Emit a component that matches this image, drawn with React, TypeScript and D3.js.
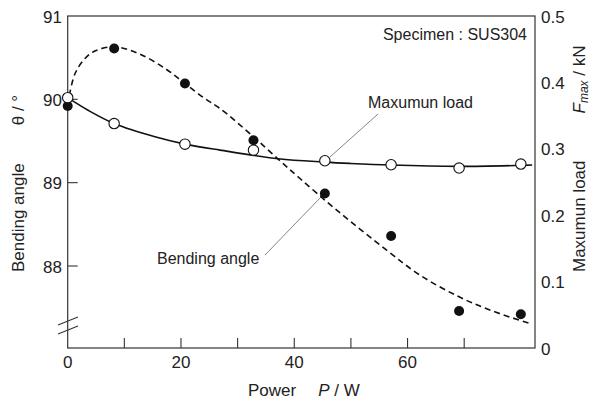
import React from "react";
import * as d3 from "d3";

// Measured data (Power P / W)
const power = [0, 8.2, 20.7, 32.8, 45.4, 57.1, 69.1, 80.0];
const bendingAngle = [89.92, 90.61, 90.19, 89.51, 88.87, 88.36, 87.46, 87.42];
const maxLoad = [0.377, 0.338, 0.307, 0.298, 0.282, 0.276, 0.271, 0.277];

// Fitted curves
const angleFitPower = [0.3, 1.3, 3.05, 4.8, 8.2, 12.5, 17.2, 20.7, 24.2, 26.9, 32.8, 37.2, 41.0, 47.5, 56.3, 62.2, 69.1, 75.0, 81.6];
const angleFitValue = [90.05, 90.31, 90.49, 90.58, 90.63, 90.55, 90.37, 90.19, 90.01, 89.89, 89.55, 89.28, 89.05, 88.67, 88.19, 87.89, 87.63, 87.46, 87.31];
const loadFitPower = [0, 3.6, 8.2, 15.4, 20.7, 26.9, 37.2, 45.4, 49.8, 57.0, 69.1, 80.0, 82.0];
const loadFitValue = [0.377, 0.358, 0.338, 0.318, 0.307, 0.298, 0.285, 0.280, 0.278, 0.2755, 0.2735, 0.275, 0.2755];

const xTicks = [10, 20, 30, 40, 50, 60, 70];
const xTickLabels = [0, 20, 40, 60];
const angleTicks = [88, 89, 90];
const angleTickLabels = [88, 89, 90, 91];
const loadTickLabels = [0, 0.1, 0.2, 0.3, 0.4, 0.5];

const FONT = "'Liberation Sans', Arial, Helvetica, sans-serif";
const TXT = "#222";

export default function App() {
  const left = 67.7, right = 535, top = 16, bottom = 348;
  const x = d3.scaleLinear().domain([0, 82.5]).range([left, right]);
  const yA = d3.scaleLinear().domain([87.016, 91]).range([bottom, top]);
  const yL = d3.scaleLinear().domain([0, 0.5]).range([bottom, top]);

  const angleLine = d3
    .line<number>()
    .x((_, i) => x(angleFitPower[i]))
    .y((d) => yA(d))
    .curve(d3.curveCatmullRom.alpha(0.5));
  const loadLine = d3
    .line<number>()
    .x((_, i) => x(loadFitPower[i]))
    .y((d) => yL(d))
    .curve(d3.curveCatmullRom.alpha(0.5));

  return (
    <svg
      width={590}
      height={400}
      style={{ position: "absolute", left: 0, top: 0, background: "#fff" }}
      fontFamily={FONT}
    >
      <rect x={0} y={0} width={590} height={400} fill="#fff" />
      {/* frame */}
      <rect x={left} y={top} width={right - left} height={bottom - top} fill="none" stroke="#333" strokeWidth={1.2} />
      {/* x ticks (inward) */}
      {xTicks.map((t) => (
        <line key={t} x1={x(t)} x2={x(t)} y1={bottom} y2={bottom - 10} stroke="#333" strokeWidth={1.1} />
      ))}
      {/* left ticks inward */}
      {angleTicks.map((t) => (
        <line key={t} x1={left} x2={left + 10} y1={yA(t)} y2={yA(t)} stroke="#333" strokeWidth={1.1} />
      ))}
      {/* axis break */}
      <line x1={58} y1={325} x2={78} y2={317} stroke="#333" strokeWidth={1.1} />
      <line x1={58} y1={334} x2={78} y2={326} stroke="#333" strokeWidth={1.1} />

      {/* tick labels */}
      {xTickLabels.map((t) => (
        <text key={t} x={x(t)} y={368} textAnchor="middle" fontSize={17} fill={TXT}>
          {t}
        </text>
      ))}
      {angleTickLabels.map((t) => (
        <text key={t} x={62} y={yA(t) + 1} textAnchor="end" dominantBaseline="central" fontSize={17} fill={TXT}>
          {t}
        </text>
      ))}
      {loadTickLabels.map((t) => (
        <text key={t} x={541} y={yL(t) + 1} textAnchor="start" dominantBaseline="central" fontSize={17} fill={TXT}>
          {t === 0 ? "0" : t.toFixed(1)}
        </text>
      ))}

      {/* axis titles */}
      <text x={248} y={396} fontSize={17} fill={TXT}>
        Power
        <tspan dx={22} fontStyle="italic">P</tspan>
        <tspan> / W</tspan>
      </text>
      <text transform="translate(24,272) rotate(-90)" fontSize={17} fill={TXT}>
        Bending angle
        <tspan dx={38}>θ / °</tspan>
      </text>
      <text transform="translate(585,272) rotate(-90)" fontSize={17} fill={TXT}>
        Maxumun load
        <tspan dx={47} fontStyle="italic">F</tspan>
        <tspan fontStyle="italic" fontSize={12} dy={3}>max</tspan>
        <tspan dy={-3}> / kN</tspan>
      </text>

      {/* annotations */}
      <text x={527} y={40} textAnchor="end" fontSize={16} fill={TXT}>
        Specimen : SUS304
      </text>
      <text x={368} y={108} fontSize={16} fill={TXT}>
        Maxumun load
      </text>
      <text x={157} y={264} fontSize={16} fill={TXT}>
        Bending angle
      </text>
      <line x1={378} y1={114} x2={330} y2={157} stroke="#666" strokeWidth={0.8} />
      <line x1={265} y1={255} x2={322} y2={196} stroke="#666" strokeWidth={0.8} />

      {/* curves */}
      <path d={angleLine(angleFitValue) || ""} fill="none" stroke="#111" strokeWidth={1.6} strokeDasharray="6,4" />
      <path d={loadLine(loadFitValue) || ""} fill="none" stroke="#111" strokeWidth={1.6} />

      {/* points */}
      {power.map((p, i) => (
        <circle key={"a" + i} cx={x(p)} cy={yA(bendingAngle[i])} r={5} fill="#111" />
      ))}
      {power.map((p, i) => (
        <circle key={"l" + i} cx={x(p)} cy={yL(maxLoad[i])} r={5.2} fill="#fff" stroke="#111" strokeWidth={1.1} />
      ))}
    </svg>
  );
}
